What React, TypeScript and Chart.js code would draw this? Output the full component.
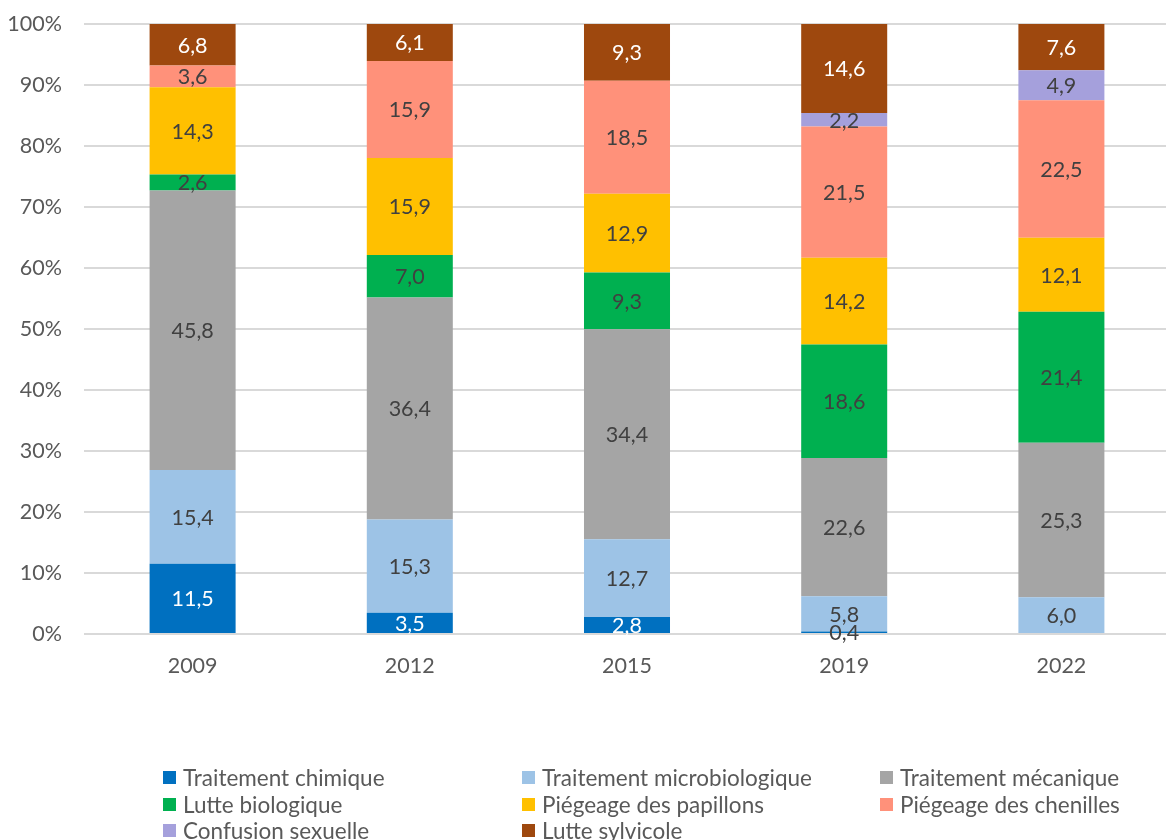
import React, { useEffect, useRef } from "react";
import { Chart, registerables } from "chart.js";

Chart.register(...registerables);

const years = ["2009", "2012", "2015", "2019", "2022"];
const seriesNames = [
  "Traitement chimique",
  "Traitement microbiologique",
  "Traitement mécanique",
  "Lutte biologique",
  "Piégeage des papillons",
  "Piégeage des chenilles",
  "Confusion sexuelle",
  "Lutte sylvicole",
];
const chimique = [11.5, 3.5, 2.8, 0.4, 0];
const microbiologique = [15.4, 15.3, 12.7, 5.8, 6.0];
const mecanique = [45.8, 36.4, 34.4, 22.6, 25.3];
const biologique = [2.6, 7.0, 9.3, 18.6, 21.4];
const papillons = [14.3, 15.9, 12.9, 14.2, 12.1];
const chenilles = [3.6, 15.9, 18.5, 21.5, 22.5];
const confusion = [0, 0, 0, 2.2, 4.9];
const sylvicole = [6.8, 6.1, 9.3, 14.6, 7.6];
const yTicks = [0, 10, 20, 30, 40, 50, 60, 70, 80, 90, 100];

const seriesValues = [chimique, microbiologique, mecanique, biologique, papillons, chenilles, confusion, sylvicole];
const colors = ["#0070c0", "#9dc3e6", "#a5a5a5", "#00b050", "#ffc000", "#ff917a", "#a5a0dc", "#9e480e"];
const whiteLabel = [true, false, false, false, false, false, false, true];

// 100% stacked: normalise each year's total
const totals = years.map((_, i) => seriesValues.reduce((s, arr) => s + arr[i], 0));

const FONT = "Lato, 'Liberation Sans', sans-serif";

const labelPlugin = {
  id: "segLabels",
  afterDatasetsDraw(chart: any) {
    const ctx = chart.ctx;
    ctx.save();
    ctx.font = `21.5px ${FONT}`;
    ctx.textAlign = "center";
    ctx.textBaseline = "middle";
    chart.data.datasets.forEach((ds: any, di: number) => {
      const meta = chart.getDatasetMeta(di);
      meta.data.forEach((el: any, i: number) => {
        const v = seriesValues[di][i];
        if (!v) return;
        const y = (el.y + el.base) / 2;
        ctx.fillStyle = whiteLabel[di] && v >= 1 ? "#ffffff" : "#404040";
        ctx.fillText(v.toFixed(1).replace(".", ","), el.x, y + 1);
      });
    });
    ctx.restore();
  },
};

export default function App() {
  const ref = useRef<HTMLCanvasElement>(null);
  useEffect(() => {
    if (!ref.current) return;
    const chart = new Chart(ref.current, {
      type: "bar",
      data: {
        labels: years,
        datasets: seriesValues.map((vals, i) => ({
          label: seriesNames[i],
          data: vals.map((v, j) => (v / totals[j]) * 100),
          backgroundColor: colors[i],
          borderWidth: 0,
          barPercentage: 0.396,
          categoryPercentage: 1,
        })),
      },
      options: {
        responsive: false,
        animation: false,
        maintainAspectRatio: false,
        layout: { padding: { top: 14, right: 2, left: 0, bottom: 0 } },
        plugins: { legend: { display: false }, tooltip: { enabled: false } },
        scales: {
          x: {
            stacked: true,
            grid: { display: false, drawTicks: false },
            border: { display: false },
            ticks: { color: "#595959", font: { family: FONT, size: 21.5 }, padding: 19 },
            afterFit(scale: any) {
              scale.height = 206;
            },
          },
          y: {
            stacked: true,
            min: 0,
            max: 100,
            afterBuildTicks(scale: any) {
              scale.ticks = yTicks.map((v) => ({ value: v }));
            },
            grid: { color: "#d9d9d9", lineWidth: 2, drawTicks: false },
            border: { display: false },
            ticks: {
              color: "#595959",
              font: { family: FONT, size: 21.5 },
              padding: 22,
              callback: (v: any) => v + "%",
            },
            afterFit(scale: any) {
              scale.width = 84;
            },
          },
        },
      },
      plugins: [labelPlugin],
    });
    return () => chart.destroy();
  }, []);

  const legendCols = [163, 522, 880];
  const legendRows = [777, 804, 830];

  return (
    <div style={{ position: "fixed", left: 0, top: 0, width: 1166, height: 840, overflow: "hidden", background: "#fff" }}>
      <canvas ref={ref} width={1172} height={851} style={{ position: "absolute", left: 0, top: -11, width: 1172, height: 851 }} />
      {seriesNames.map((name, i) => {
        const col = i % 3;
        const row = Math.floor(i / 3);
        return (
          <div
            key={name}
            style={{
              position: "absolute",
              left: legendCols[col],
              top: legendRows[row] - 13,
              height: 26,
              display: "flex",
              alignItems: "center",
              fontFamily: FONT,
              fontSize: 22.5,
              color: "#595959",
              whiteSpace: "nowrap",
            }}
          >
            <span style={{ display: "inline-block", width: 13, height: 13, background: colors[i], marginRight: 7 }} />
            <span>{name}</span>
          </div>
        );
      })}
    </div>
  );
}
